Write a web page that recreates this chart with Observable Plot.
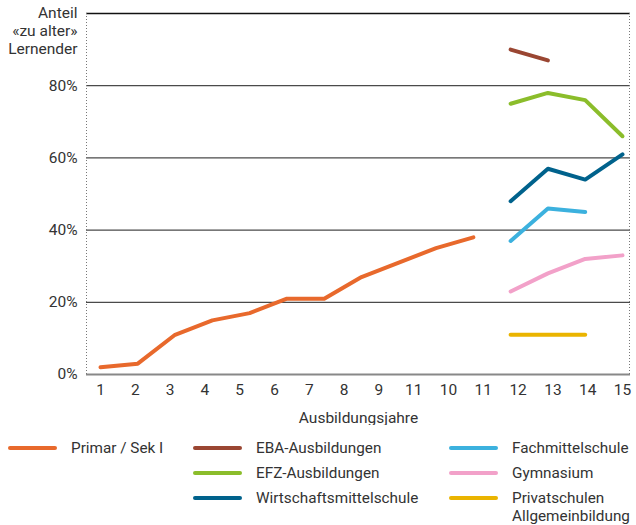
<!DOCTYPE html>
<html>
<head>
<meta charset="utf-8">
<script src="https://cdn.jsdelivr.net/npm/d3@7"></script>
<script src="https://cdn.jsdelivr.net/npm/@observablehq/plot@0.6"></script>
<style>
  body { margin: 0; background: #fff; font-family: Roboto, "Noto Sans", sans-serif; }
  #wrap { position: relative; width: 636px; height: 525px; }
  #wrap svg { position: absolute; left: 0; top: 0; }
  .leg { position: absolute; font-size: 15.3px; color: #333; line-height: 18px; white-space: pre; }
  .sw { position: absolute; width: 49px; height: 4px; border-radius: 2px; }
</style>
</head>
<body>
<div id="wrap"></div>
<script>
// ---- data ----
const tickLabels = ["1","2","3","4","5","6","7","8","9","11","10","11","12","13","14","15"];
const series = ["Primar / Sek I","EBA-Ausbildungen","EFZ-Ausbildungen","Wirtschaftsmittelschule","Fachmittelschule","Gymnasium","Privatschulen\nAllgemeinbildung"];
const colors = ["#e8692c","#9a4632","#8bbd2b","#00628c","#3cb1de","#f2a1c9","#eab400"];
const primarYears = [1,2,3,4,5,6,7,8,9,10,11];
const primarValues = [2,3,11,15,17,21,21,27,31,35,38];
const ebaYears = [12,13];
const ebaValues = [90,87];
const efzYears = [12,13,14,15];
const efzValues = [75,78,76,66];
const wmsYears = [12,13,14,15];
const wmsValues = [48,57,54,61];
const fmsYears = [12,13,14];
const fmsValues = [37,46,45];
const gymYears = [12,13,14,15];
const gymValues = [23,28,32,33];
const privYears = [12,13,14];
const privValues = [11,11,11];
const yTicks = [0,20,40,60,80];
const yTitle = "Anteil\n«zu alter»\nLernender";

const groups = [
  [primarYears, primarValues],
  [ebaYears, ebaValues],
  [efzYears, efzValues],
  [wmsYears, wmsValues],
  [fmsYears, fmsValues],
  [gymYears, gymValues],
  [privYears, privValues]
];
const rows = [];
groups.forEach(([xs, ys], i) => xs.forEach((x, j) => rows.push({s: series[i], x, y: ys[j]})));

// tick label positions: 16 labels evenly spread across the data span
const tickPos = tickLabels.map((_, i) => 1 + i * 14 / 15);

const W = 636, H = 425, ML = 86, MR = 6, MT = 13, MB = 51;
const chart = Plot.plot({
  width: W,
  height: H,
  marginLeft: ML,
  marginRight: MR,
  marginTop: MT,
  marginBottom: MB,
  style: {fontFamily: "Roboto, 'Noto Sans', sans-serif", fontSize: "15.5px", color: "#333", background: "#fff"},
  x: {domain: [1, 15], range: [100, 622]},
  y: {domain: [0, 100]},
  color: {domain: series, range: colors},
  marks: [
    Plot.ruleY([20, 40, 60, 80], {stroke: "#4a4a4a", strokeWidth: 1.2}),
    Plot.ruleY([100], {stroke: "#111", strokeWidth: 1.5}),
    Plot.lineY(rows, {x: "x", y: "y", z: "s", stroke: "s", strokeWidth: 4, strokeLinecap: "round", strokeLinejoin: "round"}),
    Plot.ruleY([0], {stroke: "#888", strokeWidth: 2}),
    Plot.axisY({ticks: yTicks, tickSize: 0, tickPadding: 9, tickFormat: d => d + "%", label: null}),
    Plot.text([{y: 100, t: yTitle}], {y: "y", text: "t", frameAnchor: "left", textAnchor: "end", dx: -9, lineAnchor: "top", dy: -8, lineHeight: 1.16, fill: "#333"}),
    Plot.axisX({ticks: tickPos, tickSize: 0, tickPadding: 9, tickFormat: (d, i) => tickLabels[i], label: "Ausbildungsjahre", labelAnchor: "center", labelArrow: false, labelOffset: 48})
  ]
});
// dotted frame edges (left and right)
const svg = d3.select(chart);
[ML + 0.5, W - MR - 0.5].forEach(px => {
  svg.append("line")
    .attr("x1", px).attr("x2", px)
    .attr("y1", MT).attr("y2", H - MB)
    .attr("stroke", "#777").attr("stroke-width", 1)
    .attr("stroke-dasharray", "1,2");
});
const wrap = document.getElementById("wrap");
wrap.appendChild(chart);

// ---- legend (HTML, below the svg) ----
const legendPos = [
  [8, 448], [193, 448], [193, 473], [193, 498], [449, 448], [449, 473], [449, 498]
];
series.forEach((name, i) => {
  const [lx, ly] = legendPos[i];
  const sw = document.createElement("div");
  sw.className = "sw";
  sw.style.left = lx + "px";
  sw.style.top = (ly - 2) + "px";
  sw.style.background = colors[i];
  wrap.appendChild(sw);
  const t = document.createElement("div");
  t.className = "leg";
  t.style.left = (lx + 63) + "px";
  t.style.top = (ly - 9) + "px";
  t.textContent = name;
  wrap.appendChild(t);
});
</script>
</body>
</html>
